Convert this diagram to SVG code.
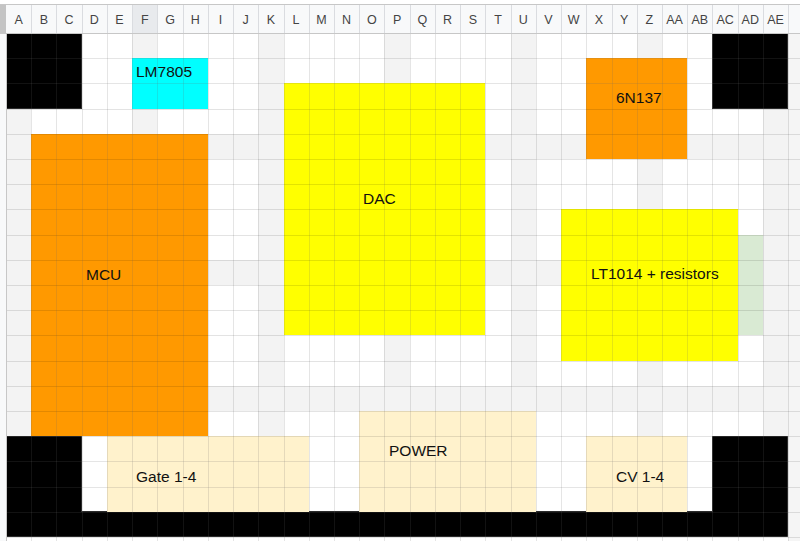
<svg xmlns="http://www.w3.org/2000/svg" width="800" height="541" viewBox="0 0 800 541">
<style>
.hdr{font-family:"Liberation Sans",Arial,sans-serif;font-size:12.5px;fill:#444;text-anchor:middle}
.lbl{font-family:"Liberation Sans",Arial,sans-serif;font-size:15.5px;fill:#111}
.alt{fill:#f3f3f3}
.blk{fill:#000;stroke:#2b2b2b;stroke-width:1}
.org{fill:#ff9900}
.yel{fill:#ffff00}
.crm{fill:#fff2cc}
</style>
<rect x="0" y="0" width="800" height="541" fill="#fff"/>
<g id="background">
<rect x="788" y="33" width="12" height="508" fill="#f5f5f5"/>
<rect class="alt" x="6" y="33" width="25" height="504"/>
<rect class="alt" x="132" y="33" width="25" height="504"/>
<rect class="alt" x="258" y="33" width="26" height="504"/>
<rect class="alt" x="384" y="33" width="26" height="504"/>
<rect class="alt" x="511" y="33" width="25" height="504"/>
<rect class="alt" x="637" y="33" width="25" height="504"/>
<rect class="alt" x="763" y="33" width="25" height="504"/>
<rect class="alt" x="6" y="134" width="782" height="25"/>
<rect class="alt" x="6" y="260" width="782" height="25"/>
<rect class="alt" x="6" y="386" width="782" height="25"/>
</g>
<g id="black-top-left"><rect class="blk" x="6.5" y="33.5" width="75" height="75"/></g>
<g id="black-top-right"><rect class="blk" x="712.5" y="33.5" width="75" height="75"/></g>
<g id="black-bottom"><path class="blk" d="M6.5 436.5H81.5V511.5H712.5V436.5H787.5V536.5H6.5Z"/></g>
<g id="lm7805"><rect x="132" y="58" width="76" height="51" fill="#00ffff"/></g>
<g id="dac"><rect class="yel" x="284" y="83" width="201" height="252"/></g>
<g id="n6n137"><rect class="org" x="586" y="58" width="101" height="101"/></g>
<g id="mcu"><rect class="org" x="31" y="134" width="177" height="302"/></g>
<g id="lt1014"><rect class="yel" x="561" y="209" width="177" height="152"/></g>
<g id="green"><rect x="738" y="235" width="25" height="100" fill="#d9ead3"/></g>
<g id="gate"><rect class="crm" x="107" y="436" width="202" height="76"/></g>
<g id="power"><rect class="crm" x="359" y="411" width="177" height="101"/></g>
<g id="cv"><rect class="crm" x="586" y="436" width="101" height="76"/></g>
<g id="grid" fill="none" stroke-width="1">
<path stroke="#000" stroke-opacity="0.11" d="M6.5 33V541M31.5 33V541M56.5 33V541M82.5 33V541M107.5 33V541M132.5 33V541M157.5 33V541M183.5 33V541M208.5 33V541M233.5 33V541M258.5 33V541M284.5 33V541M309.5 33V541M334.5 33V541M359.5 33V541M384.5 33V541M410.5 33V541M435.5 33V541M460.5 33V541M485.5 33V541M511.5 33V541M536.5 33V541M561.5 33V541M586.5 33V541M612.5 33V541M637.5 33V541M662.5 33V541M687.5 33V541M712.5 33V541M738.5 33V541M763.5 33V541M788.5 33V541M6 58.5H800M6 83.5H800M6 109.5H800M6 134.5H800M6 159.5H800M6 184.5H800M6 209.5H800M6 235.5H800M6 260.5H800M6 285.5H800M6 310.5H800M6 335.5H800M6 361.5H800M6 386.5H800M6 411.5H800M6 436.5H800M6 461.5H800M6 487.5H800M6 512.5H800M6 537.5H800"/>
<path stroke="#fff" stroke-opacity="0.07" d="M31.5 33V541M56.5 33V541M82.5 33V541M107.5 33V541M132.5 33V541M157.5 33V541M183.5 33V541M208.5 33V541M233.5 33V541M258.5 33V541M284.5 33V541M309.5 33V541M334.5 33V541M359.5 33V541M384.5 33V541M410.5 33V541M435.5 33V541M460.5 33V541M485.5 33V541M511.5 33V541M536.5 33V541M561.5 33V541M586.5 33V541M612.5 33V541M637.5 33V541M662.5 33V541M687.5 33V541M712.5 33V541M738.5 33V541M763.5 33V541M6 58.5H788M6 83.5H788M6 461.5H788M6 487.5H788M6 512.5H788"/>
</g>
<g id="header">
<rect x="0" y="4.5" width="800" height="28.5" fill="#f8f9fa"/>
<rect x="132" y="5" width="25" height="28" fill="#e8eaed"/>
<rect x="0" y="4.5" width="6" height="28.5" fill="#c4c4c4"/>
<rect x="0" y="33" width="6" height="508" fill="#f8f9fa"/>
<path fill="none" stroke="#c7c7c7" d="M0 4.5H800M0 33.5H800M6.5 33V541"/>
<path fill="none" stroke="#dadce0" d="M31.5 5V33M56.5 5V33M82.5 5V33M107.5 5V33M132.5 5V33M157.5 5V33M183.5 5V33M208.5 5V33M233.5 5V33M258.5 5V33M284.5 5V33M309.5 5V33M334.5 5V33M359.5 5V33M384.5 5V33M410.5 5V33M435.5 5V33M460.5 5V33M485.5 5V33M511.5 5V33M536.5 5V33M561.5 5V33M586.5 5V33M612.5 5V33M637.5 5V33M662.5 5V33M687.5 5V33M712.5 5V33M738.5 5V33M763.5 5V33M788.5 5V33"/>
<text class="hdr" x="18.6" y="23.5">A</text>
<text class="hdr" x="43.8" y="23.5">B</text>
<text class="hdr" x="69" y="23.5">C</text>
<text class="hdr" x="94.3" y="23.5">D</text>
<text class="hdr" x="119.5" y="23.5">E</text>
<text class="hdr" x="144.8" y="23.5">F</text>
<text class="hdr" x="170" y="23.5">G</text>
<text class="hdr" x="195.2" y="23.5">H</text>
<text class="hdr" x="220.5" y="23.5">I</text>
<text class="hdr" x="245.7" y="23.5">J</text>
<text class="hdr" x="270.9" y="23.5">K</text>
<text class="hdr" x="296.1" y="23.5">L</text>
<text class="hdr" x="321.4" y="23.5">M</text>
<text class="hdr" x="346.6" y="23.5">N</text>
<text class="hdr" x="371.8" y="23.5">O</text>
<text class="hdr" x="397.1" y="23.5">P</text>
<text class="hdr" x="422.3" y="23.5">Q</text>
<text class="hdr" x="447.5" y="23.5">R</text>
<text class="hdr" x="472.8" y="23.5">S</text>
<text class="hdr" x="498" y="23.5">T</text>
<text class="hdr" x="523.2" y="23.5">U</text>
<text class="hdr" x="548.4" y="23.5">V</text>
<text class="hdr" x="573.7" y="23.5">W</text>
<text class="hdr" x="598.9" y="23.5">X</text>
<text class="hdr" x="624.1" y="23.5">Y</text>
<text class="hdr" x="649.4" y="23.5">Z</text>
<text class="hdr" x="674.6" y="23.5">AA</text>
<text class="hdr" x="699.8" y="23.5">AB</text>
<text class="hdr" x="725.1" y="23.5">AC</text>
<text class="hdr" x="750.3" y="23.5">AD</text>
<text class="hdr" x="775.5" y="23.5">AE</text>
</g>
<g id="labels">
<text class="lbl" x="136" y="77.3">LM7805</text>
<text class="lbl" x="363" y="204.3">DAC</text>
<text class="lbl" x="616" y="103.3">6N137</text>
<text class="lbl" x="86" y="280">MCU</text>
<text class="lbl" x="591" y="279.3">LT1014 + resistors</text>
<text class="lbl" x="136" y="481.7">Gate 1-4</text>
<text class="lbl" x="389" y="456.3">POWER</text>
<text class="lbl" x="616" y="481.7">CV 1-4</text>
</g>
</svg>
